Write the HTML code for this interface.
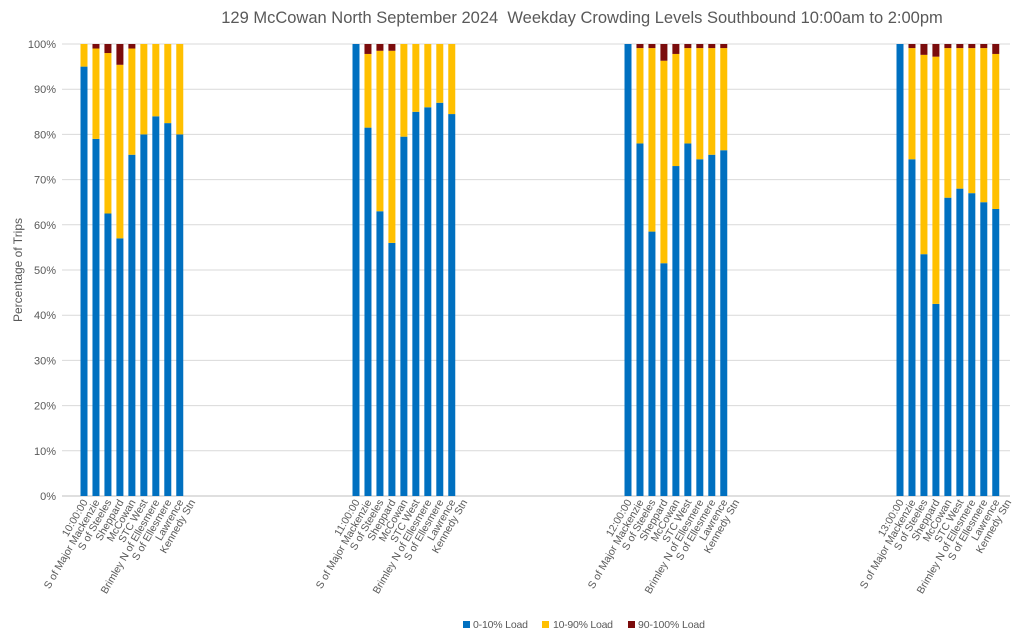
<!DOCTYPE html>
<html><head><meta charset="utf-8"><style>
body{margin:0;background:#fff;font-family:"Liberation Sans",sans-serif}
svg{display:block}
</style></head><body>
<svg id="c" width="1024" height="640" xmlns="http://www.w3.org/2000/svg">
<text x="582" y="23" text-anchor="middle" font-size="16.5" fill="#595959" xml:space="preserve">129 McCowan North September 2024  Weekday Crowding Levels Southbound 10:00am to 2:00pm</text>
<text transform="translate(22,270) rotate(-90)" text-anchor="middle" font-size="12" fill="#595959">Percentage of Trips</text>
<g id="grid"></g><g id="bars"></g><g id="xl"></g>
<g font-size="10.5" fill="#595959">
<rect x="463" y="621" width="7" height="7" fill="#0070C0"/>
<text x="473" y="628" textLength="55">0-10% Load</text>
<rect x="542" y="621" width="7" height="7" fill="#FFC000"/>
<text x="553" y="628" textLength="60">10-90% Load</text>
<rect x="628" y="621" width="7" height="7" fill="#7B0C0C"/>
<text x="638" y="628" textLength="67">90-100% Load</text>
</g>
</svg>
<script>
const groups=["10:00:00","11:00:00","12:00:00","13:00:00"];
const stops=["S of Major Mackenzie","S of Steeles","Sheppard","McCowan","STC West","Brimley N of Ellesmere","S of Ellesmere","Lawrence","Kennedy Stn"];
const low=[[95,79,62.5,57,75.5,80,84,82.5,80],[100,81.5,63,56,79.5,85,86,87,84.5],[100,78,58.5,51.5,73,78,74.5,75.5,76.5],[100,74.5,53.5,42.5,66,68,67,65,63.5]];
const high=[[0,1,2,4.6,1,0,0,0,0],[0,2.2,1.5,1.5,0,0,0,0,0],[0,0.9,0.9,3.7,2.2,0.9,0.9,0.9,0.9],[0,0.9,2.4,2.8,0.9,0.9,0.9,0.9,2.2]];
const yTicks=[0,10,20,30,40,50,60,70,80,90,100];
const NS="http://www.w3.org/2000/svg";
const y0=496,y1=44;
function yS(v){return y0-(v/100)*(y0-y1);}
function xS(g,i){return 84+g*272+i*11.97;}
function mk(t,a,p){const e=document.createElementNS(NS,t);for(const k in a)e.setAttribute(k,a[k]);p.appendChild(e);return e;}
const grid=document.getElementById('grid');
yTicks.forEach(v=>{
 const l=mk('line',{x1:62,x2:1010,y1:yS(v),y2:yS(v),stroke:v===0?'#bfbfbf':'#d9d9d9','stroke-width':1},grid);
 
 
 const t=mk('text',{x:56,y:yS(v)+4,'text-anchor':'end','font-size':11,fill:'#595959'},grid);
 t.textContent=v+'%';
 
 
});
const bars=document.getElementById('bars');
const xl=document.getElementById('xl');
groups.forEach((gname,g)=>{
 const labels=[gname].concat(stops);
 labels.forEach((lab,i)=>{
  const x=xS(g,i);
  const t=mk('text',{transform:`translate(${x+4},502) rotate(-60)`,'text-anchor':'end','font-size':10.5,fill:'#595959'},xl);
  t.textContent=lab;
  
  
 });
 low[g].forEach((v,i)=>{
  const x=xS(g,i)-3.5;
  const h=high[g][i];
  const mid=100-v-h;
  const b=mk('rect',{x:x,y:yS(v),width:7,height:yS(0)-yS(v),fill:'#0070C0'},bars);
  
  
  const m=mk('rect',{x:x,y:yS(v+mid),width:7,height:yS(v)-yS(v+mid),fill:'#FFC000'},bars);
  
  
  if(h>0){
   const r=mk('rect',{x:x,y:yS(100),width:7,height:yS(v+mid)-yS(100),fill:'#7B0C0C'},bars);
   
   
  }
 });
});
</script>
</body></html>
